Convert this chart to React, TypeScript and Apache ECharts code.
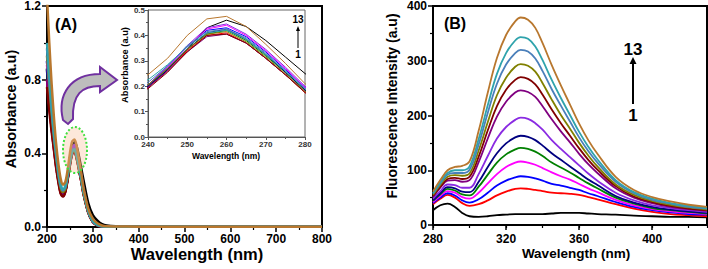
import React, { useEffect, useRef } from 'react';
import * as echarts from 'echarts';

const FONT = "'Liberation Sans', Arial, Helvetica, sans-serif";

// ---------- Panel A: absorbance ----------
const A_WAVELENGTH = [200, 205, 210, 215, 220, 225, 230, 235, 240, 245, 250, 255, 260, 265, 270, 275, 280, 290, 300, 310, 320, 330, 350, 400, 500, 600, 700, 800];
const A_X_TICKS = [200, 300, 400, 500, 600, 700, 800];
const A_Y_TICKS = [0.0, 0.4, 0.8, 1.2];
const INSET_X_TICKS = [240, 250, 260, 270, 280];
const INSET_Y_TICKS = [0.0, 0.1, 0.2, 0.3, 0.4, 0.5];

const ABS_1 = [0.85, 0.70, 0.58, 0.46, 0.35, 0.26, 0.20, 0.18, 0.195, 0.265, 0.345, 0.43, 0.46, 0.435, 0.38, 0.315, 0.25, 0.13, 0.065, 0.035, 0.016, 0.008, 0.004, 0.003, 0.003, 0.003, 0.003, 0.003];
const ABS_2 = [0.80, 0.66, 0.54, 0.43, 0.33, 0.25, 0.185, 0.17, 0.195, 0.26, 0.34, 0.40, 0.41, 0.37, 0.31, 0.245, 0.175, 0.08, 0.028, 0.009, 0.003, 0.002, 0.002, 0.002, 0.002, 0.002, 0.002, 0.002];
const ABS_3 = [0.90, 0.74, 0.60, 0.47, 0.36, 0.27, 0.205, 0.187, 0.205, 0.275, 0.355, 0.42, 0.43, 0.395, 0.335, 0.265, 0.195, 0.085, 0.03, 0.01, 0.004, 0.002, 0.002, 0.002, 0.002, 0.002, 0.002, 0.002];
const ABS_4 = [0.88, 0.73, 0.59, 0.47, 0.36, 0.27, 0.205, 0.185, 0.20, 0.275, 0.355, 0.425, 0.44, 0.40, 0.34, 0.27, 0.195, 0.085, 0.03, 0.01, 0.004, 0.002, 0.002, 0.002, 0.002, 0.002, 0.002, 0.002];
const ABS_5 = [0.86, 0.71, 0.58, 0.46, 0.35, 0.26, 0.20, 0.182, 0.20, 0.27, 0.345, 0.405, 0.42, 0.38, 0.32, 0.255, 0.185, 0.083, 0.029, 0.01, 0.004, 0.002, 0.002, 0.002, 0.002, 0.002, 0.002, 0.002];
const ABS_6 = [0.86, 0.71, 0.58, 0.46, 0.35, 0.26, 0.20, 0.18, 0.20, 0.265, 0.345, 0.41, 0.425, 0.385, 0.325, 0.255, 0.185, 0.083, 0.029, 0.01, 0.004, 0.002, 0.002, 0.002, 0.002, 0.002, 0.002, 0.002];
const ABS_7 = [0.90, 0.75, 0.60, 0.48, 0.37, 0.28, 0.21, 0.188, 0.205, 0.28, 0.36, 0.43, 0.445, 0.405, 0.345, 0.275, 0.20, 0.087, 0.031, 0.011, 0.004, 0.002, 0.002, 0.002, 0.002, 0.002, 0.002, 0.002];
const ABS_8 = [0.80, 0.66, 0.54, 0.43, 0.33, 0.25, 0.185, 0.168, 0.195, 0.26, 0.335, 0.395, 0.405, 0.37, 0.31, 0.245, 0.18, 0.08, 0.028, 0.009, 0.003, 0.002, 0.002, 0.002, 0.002, 0.002, 0.002, 0.002];
const ABS_9 = [0.76, 0.63, 0.52, 0.42, 0.32, 0.24, 0.18, 0.165, 0.19, 0.255, 0.335, 0.40, 0.405, 0.37, 0.31, 0.245, 0.175, 0.078, 0.027, 0.009, 0.003, 0.002, 0.002, 0.002, 0.002, 0.002, 0.002, 0.002];
const ABS_10 = [0.93, 0.77, 0.62, 0.49, 0.38, 0.28, 0.21, 0.19, 0.205, 0.27, 0.345, 0.405, 0.415, 0.375, 0.315, 0.25, 0.18, 0.082, 0.029, 0.01, 0.004, 0.002, 0.002, 0.002, 0.002, 0.002, 0.002, 0.002];
const ABS_11 = [0.97, 0.80, 0.64, 0.50, 0.39, 0.29, 0.22, 0.198, 0.215, 0.28, 0.36, 0.415, 0.425, 0.39, 0.33, 0.26, 0.19, 0.086, 0.031, 0.011, 0.004, 0.002, 0.002, 0.002, 0.002, 0.002, 0.002, 0.002];
const ABS_12 = [1.00, 0.82, 0.66, 0.52, 0.40, 0.30, 0.23, 0.205, 0.225, 0.285, 0.355, 0.41, 0.42, 0.385, 0.325, 0.26, 0.19, 0.087, 0.032, 0.012, 0.005, 0.002, 0.002, 0.002, 0.002, 0.002, 0.002, 0.002];
const ABS_13 = [1.25, 1.00, 0.78, 0.60, 0.45, 0.34, 0.26, 0.23, 0.245, 0.31, 0.40, 0.465, 0.475, 0.435, 0.365, 0.29, 0.21, 0.10, 0.045, 0.02, 0.008, 0.004, 0.003, 0.002, 0.002, 0.002, 0.002, 0.002];

// ---------- Panel B: fluorescence ----------
const FL_WAVELENGTH = [280, 284, 288, 292, 296, 300, 305, 310, 315, 320, 325, 328, 332, 336, 340, 345, 350, 355, 360, 365, 370, 380, 390, 400, 410, 420, 430];
const B_X_TICKS = [280, 320, 360, 400];
const B_Y_TICKS = [0, 100, 200, 300, 400];

const FL_1 = [27, 36, 39, 33, 22, 16, 15, 16, 18, 19, 20, 20, 20, 20, 20, 21, 22, 22, 22, 21, 20, 19, 17, 16, 15, 15, 14];
const FL_2 = [38, 48, 55, 50, 40, 35, 38, 45, 54, 61, 66, 67, 66, 64, 62, 59, 58, 57, 55, 51, 47, 38, 30, 24, 20, 18, 16];
const FL_3 = [40, 50, 58, 54, 45, 41, 47, 59, 72, 81, 87, 89, 88, 85, 81, 75, 72, 68, 64, 58, 53, 42, 33, 27, 23, 20, 19];
const FL_4 = [42, 53, 62, 59, 51, 48, 59, 76, 93, 106, 114, 116, 114, 110, 104, 96, 89, 83, 75, 67, 60, 46, 36, 29, 25, 22, 20];
const FL_5 = [44, 56, 66, 63, 56, 54, 70, 92, 114, 129, 138, 141, 139, 134, 126, 114, 105, 96, 86, 76, 67, 50, 39, 31, 27, 24, 21];
const FL_6 = [45, 58, 69, 67, 61, 60, 79, 106, 131, 149, 160, 163, 161, 155, 145, 131, 119, 107, 95, 83, 73, 53, 41, 33, 28, 25, 22];
const FL_7 = [48, 62, 74, 73, 68, 68, 93, 126, 158, 179, 192, 196, 194, 186, 174, 155, 139, 124, 109, 94, 81, 59, 45, 36, 31, 27, 24];
const FL_8 = [51, 68, 81, 82, 79, 82, 115, 158, 198, 225, 242, 246, 243, 234, 217, 193, 171, 151, 130, 111, 95, 67, 50, 40, 33, 29, 26];
const FL_9 = [53, 70, 84, 86, 84, 88, 125, 173, 217, 247, 265, 270, 267, 257, 238, 211, 186, 163, 140, 119, 101, 71, 52, 42, 35, 30, 27];
const FL_10 = [55, 73, 88, 91, 90, 94, 136, 188, 237, 269, 289, 294, 291, 280, 259, 229, 201, 176, 150, 127, 107, 74, 55, 44, 37, 32, 28];
const FL_11 = [57, 76, 92, 95, 95, 101, 147, 205, 258, 293, 314, 320, 317, 304, 281, 248, 218, 189, 160, 135, 114, 79, 58, 46, 39, 33, 30];
const FL_12 = [58, 78, 95, 100, 100, 107, 157, 219, 276, 314, 337, 343, 340, 326, 301, 265, 232, 201, 170, 143, 120, 82, 60, 48, 40, 35, 31];
const FL_13 = [61, 82, 100, 106, 108, 116, 172, 242, 305, 347, 372, 379, 375, 360, 332, 292, 255, 220, 185, 155, 130, 88, 64, 51, 43, 37, 33];

const CURVE_COLORS = ['#000000', '#ff0000', '#0000ff', '#ff00ff', '#008000', '#000080', '#8a2be2', '#800080', '#800000', '#808000', '#4a7fba', '#2fa3ac', '#b8772e'];

const ABS_CURVES = [ABS_1, ABS_2, ABS_3, ABS_4, ABS_5, ABS_6, ABS_7, ABS_8, ABS_9, ABS_10, ABS_11, ABS_12, ABS_13];
const FL_CURVES = [FL_1, FL_2, FL_3, FL_4, FL_5, FL_6, FL_7, FL_8, FL_9, FL_10, FL_11, FL_12, FL_13];

const ARROW_PATH = 'M 63 120 C 57 95 70 74 100 74 L 100 67 L 117 80 L 100 92 L 100 86 C 82 86 72 94 73 119 L 68 124 Z';
echarts.graphic.registerShape('bigArrow', echarts.graphic.extendPath(ARROW_PATH, {}));

const pairs = (xs: number[], ys: number[]) => xs.map((x, i) => [x, ys[i]]);

const bold = (size: number, color = '#000') => ({
  fontFamily: FONT,
  fontWeight: 'bold' as const,
  fontSize: size,
  color,
});

function mainAxis(min: number, max: number, interval: number, gridIndex: number, fmt?: (v: number) => string, extra: any = {}) {
  return {
    type: 'value',
    gridIndex,
    min,
    max,
    interval,
    axisLine: { show: true, lineStyle: { color: '#000', width: 2 } },
    axisTick: { show: true, inside: false, length: 5, lineStyle: { color: '#000', width: 1.5 } },
    minorTick: { show: true, splitNumber: 2, length: 3, lineStyle: { color: '#000', width: 1.2 } },
    axisLabel: { ...bold(12), margin: 6, formatter: fmt },
    splitLine: { show: false },
    minorSplitLine: { show: false },
    ...extra,
  };
}

function insetAxis(min: number, max: number, interval: number, fmt?: (v: number) => string) {
  return {
    type: 'value',
    gridIndex: 1,
    min,
    max,
    interval,
    axisLine: { show: true, lineStyle: { color: '#555', width: 1 } },
    axisTick: { show: true, inside: false, length: 3, lineStyle: { color: '#555', width: 1 } },
    minorTick: { show: true, splitNumber: 2, length: 2, lineStyle: { color: '#555', width: 1 } },
    axisLabel: { ...bold(8, '#333'), margin: 3, formatter: fmt },
    splitLine: { show: false },
    minorSplitLine: { show: false },
  };
}

function textEl(text: string, x: number, y: number, size: number, rotate = false, color = '#000') {
  return {
    type: 'text',
    x,
    y,
    rotation: rotate ? Math.PI / 2 : 0,
    z: 100,
    style: {
      text,
      fill: color,
      font: `bold ${size}px ${FONT}`,
      align: 'center',
      verticalAlign: 'middle',
    },
  };
}

export default function App() {
  const ref = useRef<HTMLDivElement>(null);

  useEffect(() => {
    if (!ref.current) return;
    const chart = echarts.init(ref.current, null, { renderer: 'svg' });

    const series: any[] = [];
    ABS_CURVES.forEach((c, i) => {
      series.push({
        type: 'line',
        xAxisIndex: 0,
        yAxisIndex: 0,
        data: pairs(A_WAVELENGTH, c),
        symbol: 'none',
        smooth: 0.3,
        clip: true,
        lineStyle: { color: CURVE_COLORS[i], width: 2.5 },
        z: 2,
      });
    });
    ABS_CURVES.forEach((c, i) => {
      series.push({
        type: 'line',
        xAxisIndex: 1,
        yAxisIndex: 1,
        data: pairs(A_WAVELENGTH, c),
        symbol: 'none',
        smooth: false,
        clip: true,
        lineStyle: { color: CURVE_COLORS[i], width: 1 },
        z: 3,
      });
    });
    FL_CURVES.forEach((c, i) => {
      series.push({
        type: 'line',
        xAxisIndex: 2,
        yAxisIndex: 2,
        data: pairs(FL_WAVELENGTH, c),
        symbol: 'none',
        smooth: 0.4,
        clip: true,
        lineStyle: { color: CURVE_COLORS[i], width: 1.8 },
        z: 2,
      });
    });

    const fmt1 = (v: number) => v.toFixed(1);

    const option: any = {
      animation: false,
      backgroundColor: '#ffffff',
      grid: [
        { left: 47, top: 5, width: 275, height: 222, show: true, borderColor: '#000', borderWidth: 2, backgroundColor: 'transparent' },
        { left: 148, top: 10, width: 157, height: 127, show: true, borderColor: '#666', borderWidth: 1, backgroundColor: 'transparent' },
        { left: 433, top: 5, width: 274, height: 220, show: true, borderColor: '#000', borderWidth: 2, backgroundColor: 'transparent' },
      ],
      xAxis: [
        mainAxis(A_X_TICKS[0], A_X_TICKS[A_X_TICKS.length - 1], 100, 0),
        insetAxis(INSET_X_TICKS[0], INSET_X_TICKS[INSET_X_TICKS.length - 1], 10),
        mainAxis(B_X_TICKS[0], 430, 40, 2, undefined, { position: 'bottom', minorTick: { show: false }, axisLabel: { ...bold(12), margin: 8, showMaxLabel: false } }),
        {
          type: 'value',
          gridIndex: 2,
          position: 'bottom',
          min: B_X_TICKS[0],
          max: 430,
          interval: 20,
          axisLine: { show: false },
          axisTick: { show: true, length: 3, lineStyle: { color: '#000', width: 1.2 } },
          axisLabel: { show: false },
          splitLine: { show: false },
        },
      ],
      yAxis: [
        mainAxis(A_Y_TICKS[0], A_Y_TICKS[A_Y_TICKS.length - 1], 0.4, 0, fmt1),
        insetAxis(INSET_Y_TICKS[0], INSET_Y_TICKS[INSET_Y_TICKS.length - 1], 0.1, fmt1),
        mainAxis(B_Y_TICKS[0], B_Y_TICKS[B_Y_TICKS.length - 1], 100, 2),
      ],
      series,
      graphic: [
        textEl('(A)', 66, 24, 16),
        textEl('(B)', 455, 23, 16),
        textEl('Wavelength (nm)', 197, 254, 16.5),
        textEl('Absorbance (a.u)', 11, 109, 14.5, true),
        textEl('Wavelength (nm)', 576, 253, 13.5),
        textEl('Fluorescence Intensity (a.u)', 392, 106, 14, true),
        textEl('Absorbance (a.u)', 125, 65, 9.3, true),
        textEl('Wavelength (nm)', 226, 156, 8.5),
        // panel B arrow
        textEl('13', 633, 49, 17),
        textEl('1', 633, 115, 17),
        { type: 'line', z: 100, shape: { x1: 633, y1: 104, x2: 633, y2: 62 }, style: { stroke: '#000', lineWidth: 2 } },
        { type: 'polygon', z: 100, shape: { points: [[633, 57], [629.5, 64], [636.5, 64]] }, style: { fill: '#000' } },
        // inset arrow
        textEl('13', 298, 19.5, 10),
        textEl('1', 298, 54.5, 10),
        { type: 'line', z: 100, shape: { x1: 298, y1: 48, x2: 298, y2: 30 }, style: { stroke: '#000', lineWidth: 1 } },
        { type: 'polygon', z: 100, shape: { points: [[298, 26], [296, 31], [300, 31]] }, style: { fill: '#000' } },
        // highlighted peak
        {
          type: 'ellipse',
          z: 100,
          shape: { cx: 75, cy: 150, rx: 12, ry: 23 },
          style: { fill: 'rgba(248,190,150,0.35)', stroke: '#3ee03e', lineWidth: 2, lineDash: [2, 2] },
        },
        // curved arrow
        {
          type: 'bigArrow',
          z: 100,
          x: 0,
          y: 0,
          style: { fill: '#bdbdbd', stroke: '#7030a0', lineWidth: 2 },
        },
      ],
    };

    chart.setOption(option);
    return () => chart.dispose();
  }, []);

  return <div ref={ref} style={{ position: 'absolute', left: 0, top: 0, width: 708, height: 269 }} />;
}
